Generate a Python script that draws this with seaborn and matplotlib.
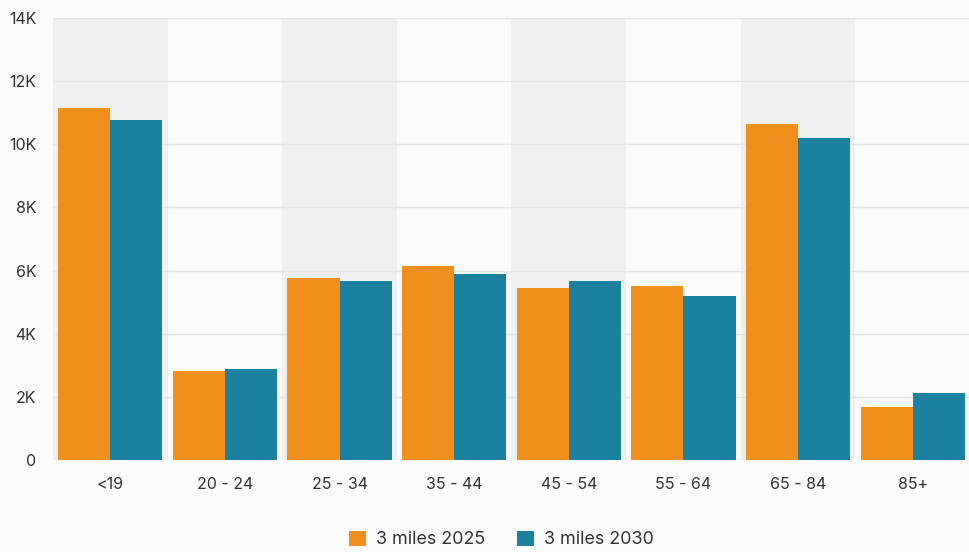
import matplotlib
matplotlib.use("Agg")
import matplotlib.pyplot as plt
import pandas as pd
import seaborn as sns
from matplotlib.ticker import FuncFormatter

categories = ["<19", "20 - 24", "25 - 34", "35 - 44", "45 - 54", "55 - 64", "65 - 84", "85+"]
series_names = ["3 miles 2025", "3 miles 2030"]
values_2025 = [11150, 2820, 5760, 6140, 5450, 5510, 10640, 1680]
values_2030 = [10770, 2880, 5670, 5890, 5670, 5190, 10200, 2120]
y_ticks = [0, 2000, 4000, 6000, 8000, 10000, 12000, 14000]

colors = ["#F08F1C", "#1C819F"]

df = pd.DataFrame({
    "age": categories * 2,
    "population": values_2025 + values_2030,
    "series": [series_names[0]] * len(categories) + [series_names[1]] * len(categories),
})

sns.set_theme(style="white")
plt.rcParams["font.family"] = ["Inter", "DejaVu Sans"]

fig = plt.figure(figsize=(9.7, 5.52), dpi=100, facecolor="#fafafa")
ax = fig.add_axes([0.0546, 0.1667, 0.9454, 0.8007])
ax.set_facecolor("#fafafa")

# alternating background bands
for i in range(0, len(categories), 2):
    ax.axvspan(i - 0.5, i + 0.5, color="#efefef", zorder=0, lw=0)

sns.barplot(data=df, x="age", y="population", hue="series", palette=colors,
            width=0.91, dodge=True, saturation=1, linewidth=0, ax=ax, zorder=2, legend=True)

ax.set_xlim(-0.5, len(categories) - 0.5)
ax.set_ylim(0, 14000)
ax.set_yticks(y_ticks)
ax.yaxis.set_major_formatter(FuncFormatter(lambda v, _: "0" if v == 0 else f"{int(v / 1000)}K"))
ax.grid(axis="y", color="#e4e4e4", lw=1, zorder=1)
ax.set_axisbelow(True)
for s in ax.spines.values():
    s.set_visible(False)
ax.set_xlabel("")
ax.set_ylabel("")
ax.tick_params(axis="x", length=6, width=1, color="#666666", labelsize=11.5, labelcolor="#333333", pad=6)
ax.tick_params(axis="y", length=0, labelsize=11.5, labelcolor="#333333", pad=12)

handles, labels = ax.get_legend_handles_labels()
ax.legend(handles, labels, loc="center", bbox_to_anchor=(0.489, -0.18), ncol=2,
          frameon=False, fontsize=12.9, handlelength=0.95, handleheight=0.95,
          columnspacing=1.8, handletextpad=0.55, labelcolor="#333333")

fig.savefig("out.png", dpi=100, facecolor=fig.get_facecolor())
